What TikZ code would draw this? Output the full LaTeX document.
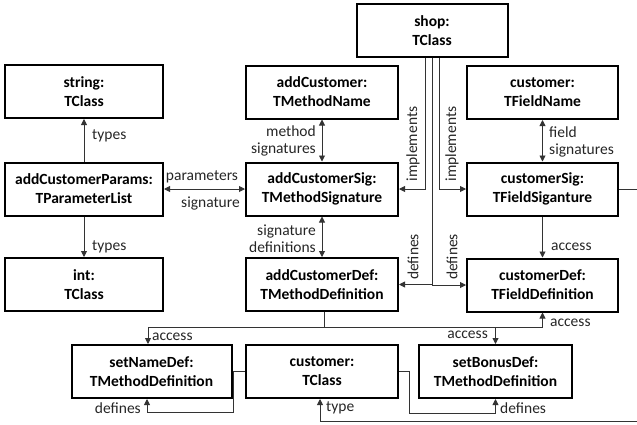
\documentclass[tikz,border=0pt]{standalone}
\usepackage{fontspec}
\setmainfont{Carlito}
\usetikzlibrary{arrows.meta}
\begin{document}
\begin{tikzpicture}[x=1pt,y=-1pt,
  obj/.style={draw,line width=2pt,minimum width=152pt,minimum height=53pt,
    align=center,inner sep=0pt,font=\bfseries\fontsize{15.5}{19}\selectfont},
  conn/.style={draw=black!80,line width=0.9pt},
  tip/.style={-{Triangle[length=6pt,width=6pt]}},
  twoway/.style={{Triangle[length=6pt,width=6pt]}-{Triangle[length=6pt,width=6pt]}},
  lbl/.style={font=\fontsize{15.5}{17}\selectfont,inner sep=0pt,text=black!85}]
\clip (0,0) rectangle (637,424);

% objects
\node[obj,minimum width=151pt] (shop) at (432,30.5) {shop:\\TClass};
\node[obj,minimum width=158pt] (string) at (84,91.5) {string:\\TClass};
\node[obj] (mname) at (322,92) {addCustomer:\\TMethodName};
\node[obj,minimum width=151pt] (fname) at (542.5,92.5) {customer:\\TFieldName};
\node[obj,minimum width=158pt] (params) at (84,189) {addCustomerParams:\\TParameterList};
\node[obj] (msig) at (322,189) {addCustomerSig:\\TMethodSignature};
\node[obj,minimum width=151pt] (fsig) at (542.5,189) {customerSig:\\TFieldSiganture};
\node[obj,minimum width=158pt] (int) at (84,284.5) {int:\\TClass};
\node[obj] (mdef) at (322,284.5) {addCustomerDef:\\TMethodDefinition};
\node[obj,minimum width=151pt] (fdef) at (542.5,285) {customerDef:\\TFieldDefinition};
\node[obj,minimum width=160pt] (setname) at (151.5,371.5) {setNameDef:\\TMethodDefinition};
\node[obj] (cclass) at (322,371.5) {customer:\\TClass};
\node[obj,minimum width=153pt] (setbonus) at (495.5,371.5) {setBonusDef:\\TMethodDefinition};

% parameter list
\draw[conn,tip] (params) -- (string);
\draw[conn,tip] (params) -- (int);
\draw[conn,twoway] (params) -- (msig);

% signatures
\draw[conn,twoway] (mname) -- (msig);
\draw[conn,twoway] (msig) -- (mdef);
\draw[conn,twoway] (fname) -- (fsig);
\draw[conn,tip] (fsig) -- (fdef);

% shop implements / defines
\draw[conn,tip] ([xshift=-7pt]shop.south) |- (msig.east);
\draw[conn,tip] ([xshift=7pt]shop.south) |- (fsig.west);
\draw[conn,tip] (shop.south) |- (mdef.east);
\draw[conn,tip] (shop.south) |- (fdef.west);

% access bus below addCustomerDef
\draw[conn] ([xshift=2pt]mdef.south) -- ++(0,15) coordinate (bus);
\draw[conn,tip] (bus) -| ([xshift=-3.5pt]setname.north);
\draw[conn,tip] (bus) -| (setbonus.north);
\draw[conn,tip] (bus) -| (fdef.south);

% customer class
\draw[conn,tip] (cclass.west) -- ++(-12,0) -- ++(0,41) -| ([xshift=-4.5pt]setname.south);
\draw[conn,tip] (cclass.east) -- ++(10,0) -- ++(0,42) -| (setbonus.south);
\draw[conn,tip] (fsig.east) -- ++(30,0) -- ++(0,232) -| ([xshift=-2pt]cclass.south);

% labels
\node[lbl,anchor=west] (ltypes1) at (92,136) {types};
\node[lbl,anchor=west] (ltypes2) at (92,247) {types};
\node[lbl] (lparam) at (202,177) {parameters};
\node[lbl,anchor=east] (lsig) at (240,203) {signature};
\node[lbl,anchor=east,align=right] (lmsig) at (316,141) {method\\signatures};
\node[lbl,anchor=east,align=right] (lsdef) at (316,238.5) {signature\\definitions};
\node[lbl,anchor=west,align=left] (lfsig) at (549,141.5) {field\\signatures};
\node[lbl,anchor=west] (lacc1) at (551,247) {access};
\node[lbl,rotate=90] (limp1) at (413,144) {implements};
\node[lbl,rotate=90] (limp2) at (452,144) {implements};
\node[lbl,rotate=90] (ldef1) at (413,257) {defines};
\node[lbl,rotate=90] (ldef2) at (452,257) {defines};
\node[lbl,anchor=west] (lacc2) at (550,323) {access};
\node[lbl,anchor=east] (lacc3) at (488,335) {access};
\node[lbl,anchor=west] (lacc4) at (152,337) {access};
\node[lbl,anchor=east] (ldef3) at (141,408) {defines};
\node[lbl,anchor=west] (ldef4) at (500,408) {defines};
\node[lbl,anchor=west] (ltype) at (326,408) {type};
\end{tikzpicture}
\end{document}
